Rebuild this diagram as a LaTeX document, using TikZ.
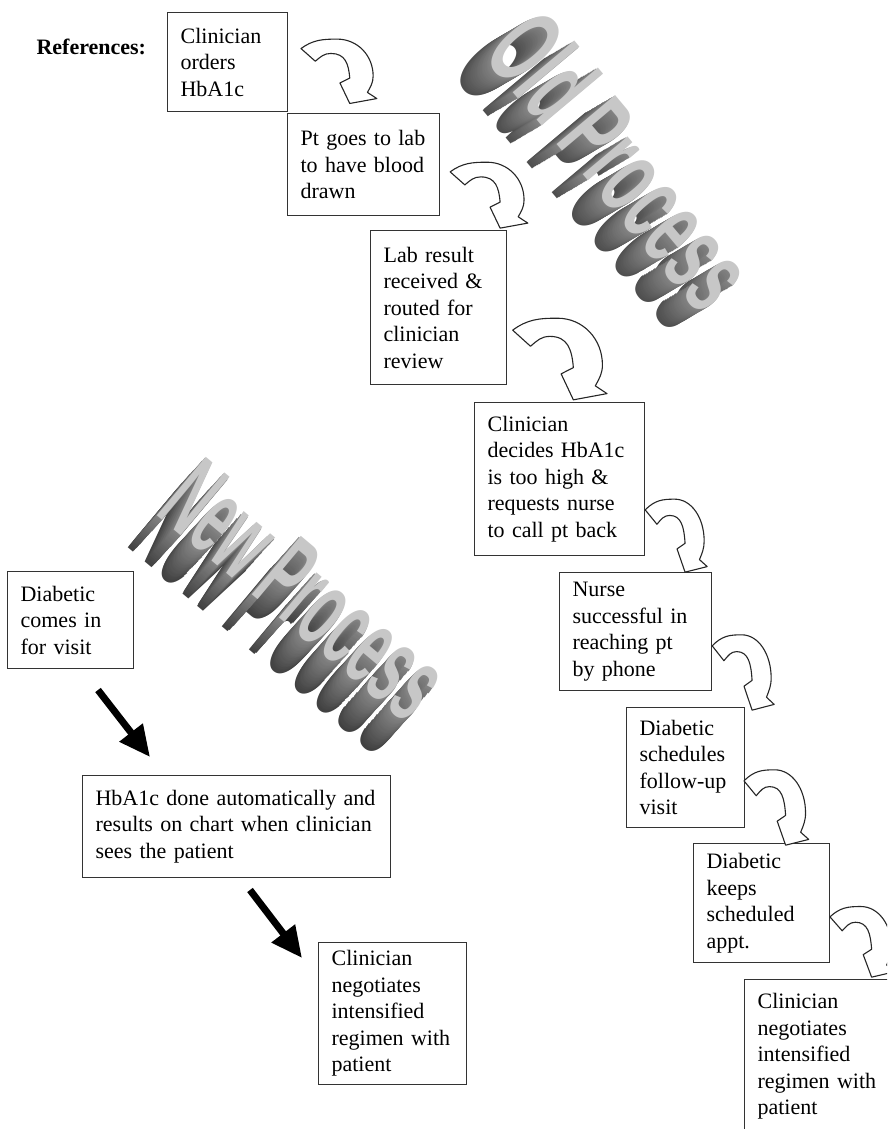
\documentclass[tikz,border=0pt]{standalone}
\usepackage{fontspec}
\setmainfont{Liberation Serif}
\newfontfamily\wordfont{Liberation Sans}
\usetikzlibrary{arrows.meta}

\newcommand{\boxfont}{\fontsize{22}{26.5}\selectfont}

\tikzset{
  stepbox/.style={draw=black!80, line width=1.2pt, anchor=north west, align=left,
    inner xsep=13pt, inner ysep=8pt, font=\boxfont},
  bendarrow/.style={draw=black!85, line width=1.1pt, fill=white, line join=round},
  thickarrow/.style={line width=7pt, -{Triangle[length=31pt,width=28pt]}},
  word/.style={font=\wordfont\bfseries\fontsize{60}{60}\selectfont, inner sep=0pt},
  pics/curvearrow/.style={code={
    \draw[bendarrow] (-0.83,0.67) .. controls (-0.54,0.88) and (-0.31,0.90) .. (0.05,0.90)
      .. controls (0.55,0.90) and (0.93,0.50) .. (0.93,0.0)
      .. controls (0.93,-0.16) and (0.87,-0.26) .. (0.79,-0.40)
      -- (1.02,-0.55) -- (0.36,-0.67) -- (0.12,-0.17) -- (0.36,-0.05)
      .. controls (0.33,0.30) and (0.25,0.55) .. (-0.10,0.55)
      .. controls (-0.27,0.55) and (-0.35,0.47) .. (-0.48,0.36) -- cycle;
  }}
}

\begin{document}
\begin{tikzpicture}[x=1pt, y=-1pt]
  \useasboundingbox (0,0) rectangle (887,1129);
  \clip (0,0) rectangle (887,1129);

  % 3D titles
  \foreach \off in {36,34,...,2}{
    \pgfmathsetmacro{\shade}{48+0.6*\off}
    \node[word, text=black!\shade, rotate=-50, xscale=0.98, yscale=1.85] (oldext\off)
      at (622-0.85*\off,160+0.5*\off) {Old Process};
  }
  \node[word, text=black!22, rotate=-50, xscale=0.98, yscale=1.85] (oldword) at (622,160) {Old Process};

  \foreach \off in {44,42,...,2}{
    \pgfmathsetmacro{\shade}{48+0.6*\off}
    \node[word, text=black!\shade, rotate=-40, xscale=0.88, yscale=1.85] (newext\off)
      at (305-0.67*\off,590+0.74*\off) {New Process};
  }
  \node[word, text=black!22, rotate=-40, xscale=0.88, yscale=1.85] (newword) at (305,590) {New Process};

  \node[anchor=base west, font=\boxfont\bfseries] (label_ref) at (33,55) {References:};

  % old process
  \node[stepbox, minimum width=120pt, minimum height=99pt, text width=94pt] (old_1) at (167,12)
    {Clinician\\orders\\HbA1c};
  \node[stepbox, minimum width=152pt, minimum height=102pt, text width=126pt] (old_2) at (287,113)
    {Pt goes to lab\\to have blood\\drawn};
  \node[stepbox, minimum width=136pt, minimum height=154pt, text width=110pt] (old_3) at (370,230)
    {Lab result\\received \&\\routed for\\clinician\\review};
  \node[stepbox, minimum width=170pt, minimum height=153pt, text width=144pt] (old_4) at (474,402)
    {Clinician\\decides HbA1c\\is too high \&\\requests nurse\\to call pt back};
  \node[stepbox, minimum width=152pt, minimum height=118pt, text width=126pt] (old_5) at (559,572)
    {Nurse\\successful in\\reaching pt\\by phone};
  \node[stepbox, minimum width=118pt, minimum height=120pt, text width=92pt] (old_6) at (626,707)
    {Diabetic\\schedules\\follow-up\\visit};
  \node[stepbox, minimum width=136pt, minimum height=119pt, text width=110pt] (old_7) at (693,843)
    {Diabetic\\keeps\\scheduled\\appt.};
  \node[stepbox, inner ysep=14pt, minimum width=160pt, text width=134pt] (old_8) at (744,979)
    {Clinician\\negotiates\\intensified\\regimen with\\patient};

  \foreach \cx/\cy/\rx/\ry in {335/76/41/41, 485/200/42/42, 555/365/51/52, 673/541/33.5/46.5,
      740/678/33.5/48, 773/813/35/48, 859/947/35/45}
    \pic[shift={(\cx,\cy)}, xscale=\rx, yscale=-\ry] {curvearrow};

  % new process
  \node[stepbox, minimum width=126pt, minimum height=97pt, text width=100pt] (new_1) at (7,571)
    {Diabetic\\comes in\\for visit};
  \node[stepbox, minimum width=308pt, minimum height=102pt, text width=282pt] (new_2) at (82,775)
    {HbA1c done automatically and\\results on chart when clinician\\sees the patient};
  \node[stepbox, minimum width=148pt, minimum height=130pt, text width=122pt] (new_3) at (318,942)
    {Clinician\\negotiates\\intensified\\regimen with\\patient};

  \coordinate (arr_1a) at (98,690);
  \coordinate (arr_1b) at (150,757);
  \coordinate (arr_2a) at (250,890);
  \coordinate (arr_2b) at (302,958);
  \draw[thickarrow] (arr_1a) -- (arr_1b);
  \draw[thickarrow] (arr_2a) -- (arr_2b);
\end{tikzpicture}
\end{document}
